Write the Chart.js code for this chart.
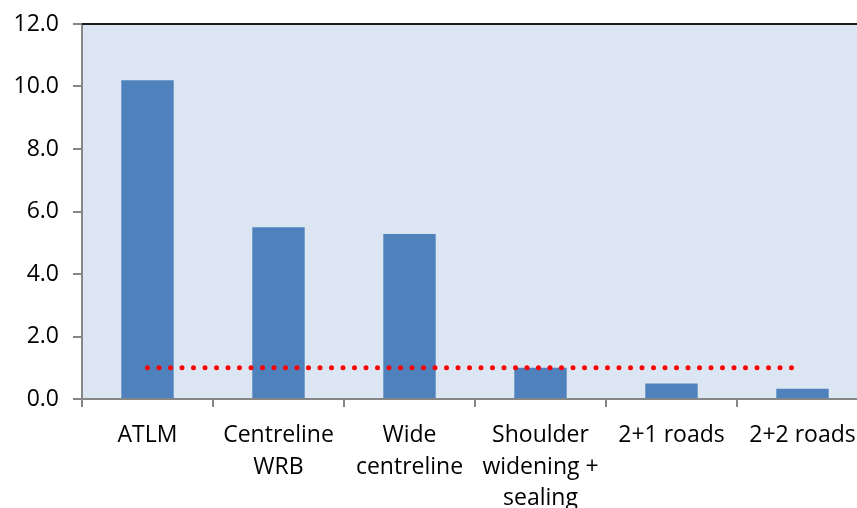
<!DOCTYPE html>
<html>
<head>
<meta charset="utf-8">
<script src="https://cdn.jsdelivr.net/npm/chart.js@4"></script>
<style>
  html, body { margin: 0; padding: 0; background: #fff; overflow: hidden; }
  #wrap { width: 880px; height: 508px; }
</style>
</head>
<body>
<div id="wrap"><canvas id="chart" width="880" height="508"></canvas></div>
<script>
// categories and values
const categorias = [
  'ATLM',
  ['Centreline', 'WRB'],
  ['Wide', 'centreline'],
  ['Shoulder', 'widening +', 'sealing'],
  '2+1 roads',
  '2+2 roads'
];
const valores = [10.2, 5.5, 5.28, 1.0, 0.5, 0.33];
const referencia = [1, 1, 1, 1, 1, 1];
const ticksY = [0, 2, 4, 6, 8, 10, 12];

// fondo del area del grafico y linea superior negra
const fondoArea = {
  id: 'fondoArea',
  beforeDraw(chart) {
    const { ctx, chartArea: a } = chart;
    ctx.save();
    ctx.fillStyle = '#DCE6F2';
    ctx.fillRect(a.left, a.top, a.right - a.left, a.bottom - a.top);
    ctx.restore();
  },
  afterDraw(chart) {
    const { ctx, chartArea: a } = chart;
    ctx.save();
    ctx.strokeStyle = '#1a1a1a';
    ctx.lineWidth = 2;
    ctx.beginPath();
    ctx.moveTo(a.left, a.top);
    ctx.lineTo(a.right, a.top);
    ctx.stroke();
    ctx.restore();
  }
};

const familia = "'Open Sans', 'Noto Sans', sans-serif";
const fuenteX = { family: familia, size: 23, lineHeight: 1.39 };
const fuenteY = { family: familia, size: 23, lineHeight: 1.2 };

new Chart(document.getElementById('chart').getContext('2d'), {
  data: {
    labels: categorias,
    datasets: [
      {
        type: 'line',
        data: referencia,
        borderColor: '#FF0000',
        borderWidth: 5,
        borderDash: [0, 11.5],
        borderCapStyle: 'round',
        pointRadius: 0,
        fill: false,
        order: 0
      },
      {
        type: 'bar',
        data: valores,
        backgroundColor: '#4F81BD',
        borderWidth: 0,
        barPercentage: 0.4,
        categoryPercentage: 1.0,
        order: 1
      }
    ]
  },
  options: {
    responsive: false,
    animation: false,
    layout: { padding: { top: 24, right: 12, left: 0, bottom: 0 } },
    plugins: { legend: { display: false }, tooltip: { enabled: false } },
    scales: {
      x: {
        offset: true,
        grid: { display: true, drawOnChartArea: false, offset: true, color: '#868686', tickLength: 8, lineWidth: 2 },
        border: { color: '#868686', width: 2 },
        ticks: { color: '#000', font: fuenteX, padding: 12, maxRotation: 0, autoSkip: false },
        afterFit(s) { s.height = 109; s.paddingLeft = 0; s.paddingRight = 0; }
      },
      y: {
        min: 0,
        max: 12,
        afterBuildTicks(s) { s.ticks = ticksY.map(v => ({ value: v })); },
        grid: { display: true, drawOnChartArea: false, color: '#868686', tickLength: 9, lineWidth: 2 },
        border: { color: '#868686', width: 2 },
        ticks: { color: '#000', font: fuenteY, padding: 14, callback: v => v.toFixed(1) },
        afterFit(s) { s.width = 82; s.paddingTop = 0; s.paddingBottom = 0; }
      }
    }
  },
  plugins: [fondoArea]
});
</script>
</body>
</html>
